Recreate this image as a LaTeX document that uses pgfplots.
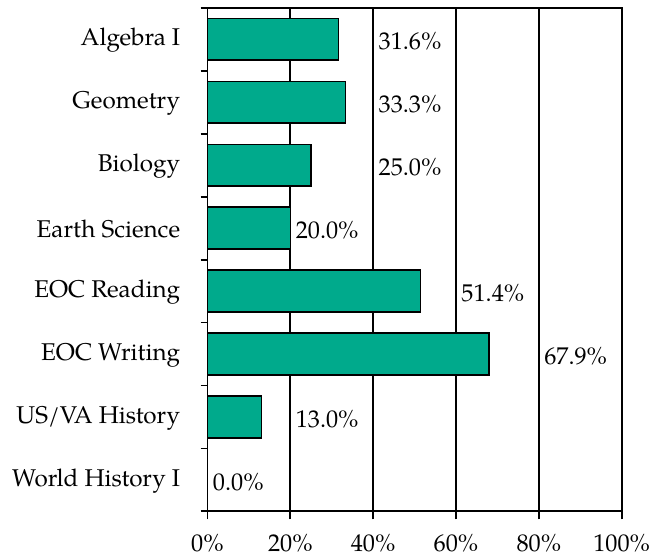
\documentclass[border={2pt 3.5pt 1.5pt 3.5pt},12pt]{standalone}
\usepackage{fontspec}
\setmainfont{TeX Gyre Pagella}
\usepackage{pgfplots}
\pgfplotsset{compat=1.18}
\definecolor{barteal}{RGB}{0,170,140}
\begin{document}
\fontsize{12.2}{14}\selectfont
\begin{tikzpicture}
\begin{axis}[
  scale only axis,
  width=208.5pt, height=253.5pt,
  xmin=0, xmax=100,
  ymin=-0.5, ymax=7.5,
  y dir=reverse,
  axis lines=box,
  axis line style={line width=0.9pt},
  xtick={0,20,...,100},
  xticklabel={\pgfmathprintnumber{\tick}\%},
  /pgf/number format/assume math mode=true,
  ytick={0,...,7},
  yticklabels={Algebra I,Geometry,Biology,Earth Science,EOC Reading,EOC Writing,US/VA History,World History I},
  minor ytick={-0.5,0.5,...,7.5},
  tick align=outside,
  xtick pos=bottom, ytick pos=left,
  major tick length=4pt,
  minor tick length=3.5pt,
  tick style={black, line width=0.9pt},
  every major y tick/.style={draw=none},
  xmajorgrids,
  grid style={black, line width=0.9pt},
  xticklabel style={inner sep=0pt, yshift=-7.5pt},
  yticklabel style={xshift=-5.5pt, yshift=-0.5pt},
  bar width=21pt,
  clip=false,
]
\addplot[xbar, fill=barteal, draw=black, line width=0.8pt] coordinates {
 (31.6,0) (33.3,1) (25.0,2) (20.0,3) (51.4,4) (67.9,5) (13.0,6) (0,7)
};
\addplot[only marks, mark=none, nodes near coords, point meta=explicit symbolic,
  nodes near coords style={anchor=west, xshift=-1.5pt, yshift=-1pt, text=black}]
  table[meta=lab] {
x y lab
40 0 31.6\%
40 1 33.3\%
40 2 25.0\%
20 3 20.0\%
60 4 51.4\%
80 5 67.9\%
20 6 13.0\%
0 7 0.0\%
};
\end{axis}
\end{tikzpicture}
\end{document}
